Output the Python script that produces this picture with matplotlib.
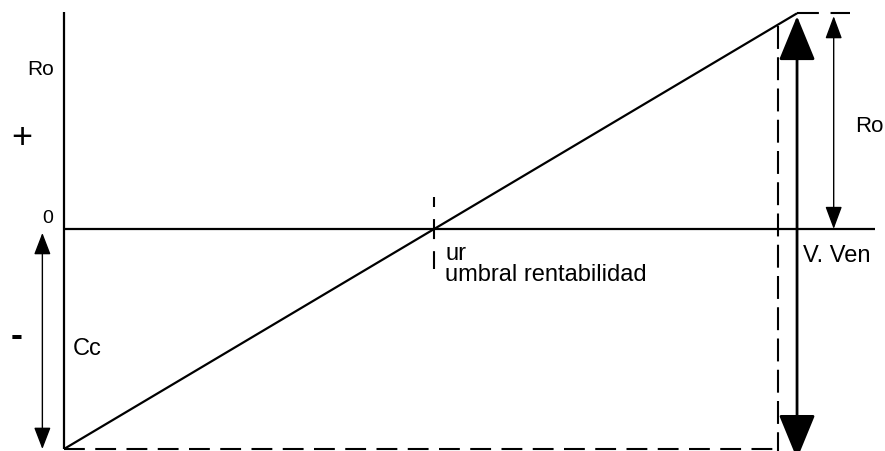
import numpy as np
import matplotlib.pyplot as plt

# break-even diagram values (arbitrary units)
ventas = [0, 100]          # sales volume: origin and V. Ven
resultado = [-100, 98]     # result: -Cc at zero sales, Ro at V. Ven
Cc = -resultado[0]
Ro = resultado[1]
V = ventas[1]
ur = V * Cc / (Cc + Ro)    # umbral de rentabilidad

plt.rcParams['font.family'] = ['Liberation Sans', 'DejaVu Sans']

fig = plt.figure(figsize=(8.85, 4.52), dpi=100)
ax = fig.add_axes([0, 0, 1, 1])
ax.set_xlim(-8.73, 112.0)
ax.set_ylim(-100.9, 104.5)
ax.axis('off')

k = dict(color='black', lw=1.6, solid_capstyle='butt')

# axes
ax.plot([0, 0], [resultado[0], 98.5], **k)
ax.plot([0, 110.6], [0, 0], **k)

# result line
ax.plot(ventas, resultado, **k)

# dashed guides
ax.plot([0, 97.4], [-Cc, -Cc], color='black', lw=1.5, linestyle=(0, (10, 5)))
ax.plot([97.4, 97.4], [92.3, -101], color='black', lw=1.5, linestyle=(0, (11, 4)))
ax.plot([V, 107.2], [Ro, Ro], color='black', lw=1.5, linestyle=(0, (10.5, 5.6, 10, 5)))
ax.plot([ur, ur], [14.5, -18.2], color='black', lw=1.5,
        linestyle=(0, (4.8, 5.8, 9.6, 5.8, 8.7, 10)))

# arrows
ax.annotate('', xy=(V, Ro - 1.3), xytext=(V, -104.5),
            arrowprops=dict(arrowstyle='<|-|>,head_length=2.8,head_width=1.15',
                            color='black', lw=2, shrinkA=0, shrinkB=0))
ax.annotate('', xy=(105, Ro - 1.3), xytext=(105, 0),
            arrowprops=dict(arrowstyle='<|-|>,head_length=1.4,head_width=0.52',
                            color='black', lw=1, shrinkA=0, shrinkB=0))
ax.annotate('', xy=(-2.95, -1.8), xytext=(-2.95, -Cc),
            arrowprops=dict(arrowstyle='<|-|>,head_length=1.35,head_width=0.52',
                            color='black', lw=1, shrinkA=0, shrinkB=0))

fs = 17
ax.text(-5.0, 70.5, 'Ro', fontsize=15, ha='left', va='baseline')
ax.text(-5.7, 43.6, '+', fontsize=26, ha='center', va='center_baseline')
ax.text(-2.9, 3.2, '0', fontsize=14, ha='left', va='baseline')
ax.text(-6.5, -46.8, '-', fontsize=26, ha='center', va='center_baseline',
        fontweight='bold')
ax.text(1.2, -56.8, 'Cc', fontsize=fs, ha='left', va='baseline')
ax.text(52, -13.6, 'ur', fontsize=fs, ha='left', va='baseline')
ax.text(52, -23.2, 'umbral rentabilidad', fontsize=fs, ha='left', va='baseline')
ax.text(100.8, -14.5, 'V. Ven', fontsize=fs, ha='left', va='baseline')
ax.text(107.9, 44.5, 'Ro', fontsize=16, ha='left', va='baseline')

fig.savefig('out.png', dpi=100)
